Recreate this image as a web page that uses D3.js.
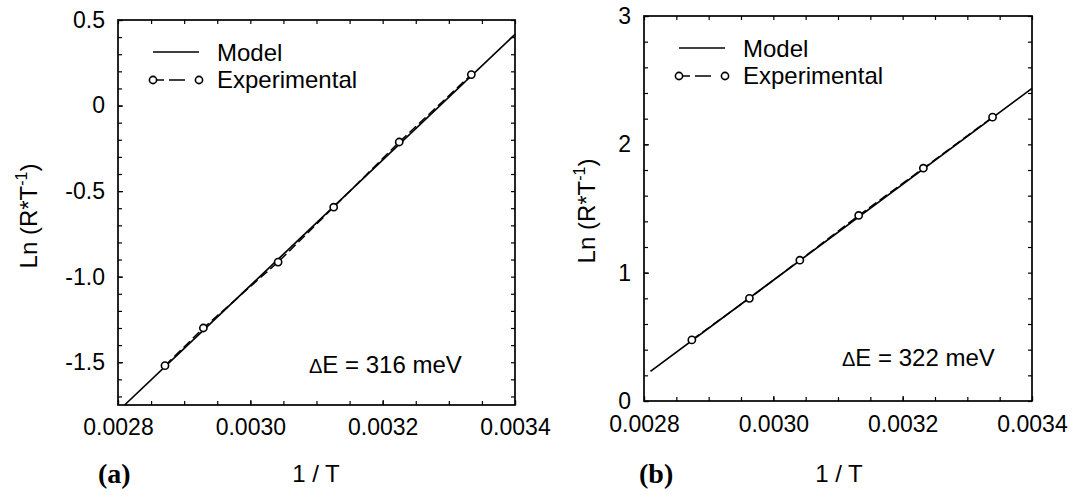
<!DOCTYPE html>
<html>
<head>
<meta charset="utf-8">
<script src="https://cdn.jsdelivr.net/npm/d3@7"></script>
<style>
  body { margin: 0; background: #fff; }
  text { font-family: 'Liberation Sans', Arial, sans-serif; fill: #000; }
  .tick line { stroke: #000; stroke-width: 1.2; }
</style>
</head>
<body>
<div id="chart"></div>
<script>
// shared x axis (1/T)
const xTicks = [0.0028, 0.0030, 0.0032, 0.0034]
const xTickLabels = ['0.0028', '0.0030', '0.0032', '0.0034']

// panel (a)
const invTA = [0.002871, 0.002929, 0.003042, 0.003126, 0.003225, 0.003334]
const lnA = [-1.52, -1.30, -0.915, -0.594, -0.213, 0.181]
const modelXA = [0.00281, 0.0034]
const modelYA = [-1.75, 0.416]
const yTicksA = [-1.5, -1.0, -0.5, 0, 0.5]
const yTickLabelsA = ['-1.5', '-1.0', '-0.5', '0', '0.5']

// panel (b)
const invTB = [0.002874, 0.002963, 0.003041, 0.003132, 0.003232, 0.003339]
const lnB = [0.476, 0.80, 1.097, 1.446, 1.814, 2.212]
const modelXB = [0.00281, 0.0034]
const modelYB = [0.231, 2.436]
const yTicksB = [0, 1, 2, 3]
const yTickLabelsB = ['0', '1', '2', '3']

const svg = d3.select('#chart').append('svg')
  .attr('width', 1077)
  .attr('height', 496)

function drawPanel(p) {
  const x = d3.scaleLinear().domain([0.0028, 0.0034]).range([p.left, p.right])
  const y = d3.scaleLinear().domain(p.yDomain).range([p.bottom, p.top])
  const g = svg.append('g')

  // minor ticks on all four sides, pointing inward
  const minorX = x.ticks(12), minorY = y.ticks(p.yMinor)
  g.append('g').attr('transform', `translate(0,${p.bottom})`)
    .call(d3.axisBottom(x).tickValues(minorX).tickSize(-4).tickFormat(''))
  g.append('g').attr('transform', `translate(0,${p.top})`)
    .call(d3.axisTop(x).tickValues(minorX).tickSize(-4).tickFormat(''))
  g.append('g').attr('transform', `translate(${p.left},0)`)
    .call(d3.axisLeft(y).tickValues(minorY).tickSize(-4).tickFormat(''))
  g.append('g').attr('transform', `translate(${p.right},0)`)
    .call(d3.axisRight(y).tickValues(minorY).tickSize(-4).tickFormat(''))

  // labelled ticks
  g.append('g').attr('transform', `translate(0,${p.bottom})`)
    .call(d3.axisBottom(x).tickValues(xTicks).tickSize(-5).tickPadding(p.xPad)
      .tickFormat((d, i) => xTickLabels[i]))
  g.append('g').attr('transform', `translate(${p.left},0)`)
    .call(d3.axisLeft(y).tickValues(p.yTicks).tickSize(-5).tickPadding(13)
      .tickFormat((d, i) => p.yLabels[i]))
  g.selectAll('.domain').remove()
  g.selectAll('.tick text').attr('font-size', 23)
    .style('font-family', "'Liberation Sans', Arial, sans-serif")

  g.append('rect')
    .attr('x', p.left).attr('y', p.top)
    .attr('width', p.right - p.left).attr('height', p.bottom - p.top)
    .attr('fill', 'none').attr('stroke', '#000').attr('stroke-width', 1.7)

  const line = d3.line().x(d => x(d[0])).y(d => y(d[1]))
  g.append('path')
    .attr('d', line(d3.zip(p.modelX, p.modelY)))
    .attr('fill', 'none').attr('stroke', '#000').attr('stroke-width', 1.7)
  const exp = d3.zip(p.invT, p.ln)
  g.append('path')
    .attr('d', line(exp))
    .attr('fill', 'none').attr('stroke', '#000').attr('stroke-width', 1.4)
    .attr('stroke-dasharray', '9,4')
  g.selectAll('circle.pt').data(exp).enter().append('circle')
    .attr('class', 'pt')
    .attr('cx', d => x(d[0])).attr('cy', d => y(d[1]))
    .attr('r', 3.6)
    .attr('fill', '#fff').attr('stroke', '#000').attr('stroke-width', 1.6)

  // legend
  const lx = p.left + 35
  g.append('line').attr('x1', lx).attr('x2', lx + 46)
    .attr('y1', p.top + 32).attr('y2', p.top + 32)
    .attr('stroke', '#000').attr('stroke-width', 1.5)
  g.append('text').attr('x', lx + 64).attr('y', p.top + 41)
    .attr('font-size', 24).text('Model')
  const ey = p.top + 60
  g.append('line').attr('x1', lx).attr('x2', lx + 46)
    .attr('y1', ey).attr('y2', ey)
    .attr('stroke', '#000').attr('stroke-width', 1.5)
    .attr('stroke-dasharray', '8,5,16,17')
    .attr('stroke-dashoffset', -3)
  ;[lx, lx + 46].forEach(cx => {
    g.append('circle').attr('cx', cx).attr('cy', ey).attr('r', 3.6)
      .attr('fill', '#fff').attr('stroke', '#000').attr('stroke-width', 1.6)
  })
  g.append('text').attr('x', lx + 64).attr('y', ey + 8)
    .attr('font-size', 24).text('Experimental')

  // activation energy
  const t = g.append('text').attr('x', p.dEx).attr('y', p.dEy).attr('font-size', 24)
  t.append('tspan').attr('font-size', 20).text('\u0394')
  t.append('tspan').text('E = ' + p.dE)

  // axis titles
  const yl = g.append('text')
    .attr('transform', `translate(${p.yLabelX},${p.yLabelY}) rotate(-90)`)
    .attr('text-anchor', 'middle').attr('font-size', 24)
  yl.append('tspan').text('Ln (R*T')
  yl.append('tspan').attr('font-size', 16).attr('dy', -10).text('-1')
  yl.append('tspan').attr('dy', 10).text(')')

  g.append('text').attr('x', p.xLabelX).attr('y', 482)
    .attr('text-anchor', 'middle').attr('font-size', 24).text('1 / T')
  g.append('text').attr('x', p.tagX).attr('y', 483)
    .attr('font-size', 28).attr('font-weight', 'bold')
    .style('font-family', "'Liberation Serif', 'Times New Roman', serif")
    .text(p.tag)
}

drawPanel({
  left: 118, right: 515, top: 20, bottom: 405,
  yDomain: [-1.75, 0.5], yMinor: 20, yTicks: yTicksA, yLabels: yTickLabelsA,
  invT: invTA, ln: lnA, modelX: modelXA, modelY: modelYA,
  xPad: 14, dE: '316 meV', dEx: 309, dEy: 373,
  yLabelX: 37, yLabelY: 216, xLabelX: 316, tagX: 98, tag: '(a)'
})

drawPanel({
  left: 644, right: 1032, top: 16, bottom: 401,
  yDomain: [0, 3], yMinor: 15, yTicks: yTicksB, yLabels: yTickLabelsB,
  invT: invTB, ln: lnB, modelX: modelXB, modelY: modelYB,
  xPad: 15, dE: '322 meV', dEx: 842, dEy: 366,
  yLabelX: 595, yLabelY: 211, xLabelX: 839, tagX: 639, tag: '(b)'
})
</script>
</body>
</html>
